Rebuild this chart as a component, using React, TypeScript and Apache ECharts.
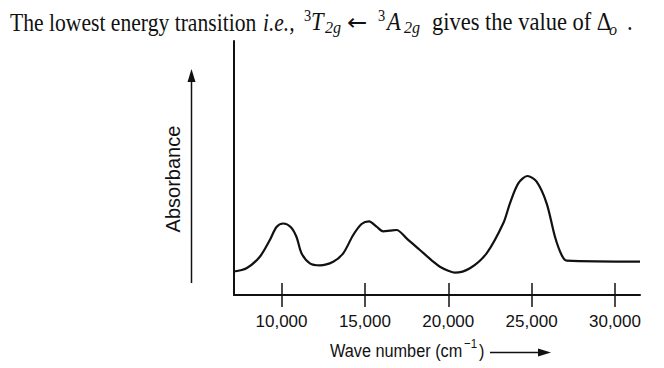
import React, { useEffect, useRef } from "react";
import * as echarts from "echarts";

// ---- data ----
const waveNumbers = [
  7150, 7900, 8700, 9300, 9700, 10100, 10550, 10900, 11200, 11700, 12300,
  13100, 13700, 14300, 14800, 15250, 15700, 16100, 16500, 16900, 17500, 18300,
  19100, 19500, 20000, 20400, 21300, 22300, 23300, 23700, 24200, 24750, 25300,
  25900, 26400, 26800, 27100, 31500,
];
const absorbance = [
  23.5, 26.7, 38.3, 55, 68, 71.5, 68, 58, 41.7, 31.7, 29.7, 33.3, 41.7, 60, 71,
  73.7, 68.3, 63.7, 64.3, 65, 56.7, 45, 33.3, 28.3, 24.3, 22.3, 26.7, 41.7,
  71.7, 91.7, 111.7, 119, 113.3, 91.7, 58.3, 40, 34.3, 33.3,
];
const tickValues = [10000, 15000, 20000, 25000, 30000];
const xMin = 7150;
const xMax = 31500;
const yMax = 254;

const yLabel = "Absorbance";
const xLabelMain = "Wave number (cm";
const xLabelSup = "\u22121";
const xLabelEnd = ")";

const titleParts = {
  lead: "The lowest energy transition",
  ie: "i.e.,",
  sup: "3",
  t: "T",
  sub: "2g",
  arrow: "\u2190",
  a: "A",
  tail: "gives the value of \u0394",
  o: "o",
  dot: ".",
};

const INK = "#111";
const serif = "'Liberation Serif', 'Times New Roman', serif";
const sans = "'Liberation Sans', Arial, sans-serif";

function serifText(
  text: string,
  x: number,
  y: number,
  size: number,
  italic = false,
  sx = 0.9,
  family = serif
) {
  return {
    type: "text",
    x,
    y,
    scaleX: sx,
    silent: true,
    style: {
      text,
      fontFamily: family,
      fontSize: size,
      fontStyle: italic ? "italic" : "normal",
      fill: INK,
      align: "left",
      verticalAlign: "middle",
    },
  };
}

function sansText(text: string, x: number, y: number, size: number) {
  return {
    type: "text",
    x,
    y,
    scaleX: 0.88,
    silent: true,
    style: {
      text,
      fontFamily: sans,
      fontSize: size,
      fill: INK,
      align: "left",
      verticalAlign: "middle",
    },
  };
}

export default function App() {
  const ref = useRef<HTMLDivElement>(null);

  useEffect(() => {
    if (!ref.current) return;
    const chart = echarts.init(ref.current, null, { renderer: "svg" });

    const main = 25;
    const small = 17;

    const option: any = {
      animation: false,
      backgroundColor: "#fff",
      grid: { left: 234, right: 24, top: 41, bottom: 73, containLabel: false },
      xAxis: [
        {
          type: "value",
          min: xMin,
          max: xMax,
          position: "bottom",
          axisLine: { show: true, lineStyle: { color: INK, width: 2 } },
          axisTick: {
            show: true,
            inside: false,
            length: 12,
            customValues: tickValues,
            lineStyle: { color: INK, width: 1.5 },
          },
          axisLabel: {
            show: true,
            customValues: tickValues,
            margin: 18,
            color: INK,
            fontFamily: sans,
            fontSize: 17,
          },
          splitLine: { show: false },
        },
        {
          type: "value",
          min: xMin,
          max: xMax,
          position: "bottom",
          offset: 0,
          axisLine: { show: false },
          axisTick: {
            show: true,
            inside: true,
            length: 12,
            customValues: tickValues,
            lineStyle: { color: INK, width: 1.5 },
          },
          axisLabel: { show: false },
          splitLine: { show: false },
        },
      ],
      yAxis: {
        type: "value",
        min: 0,
        max: yMax,
        axisLine: { show: true, lineStyle: { color: INK, width: 2 } },
        axisTick: { show: false },
        axisLabel: { show: false },
        splitLine: { show: false },
      },
      series: [
        {
          type: "line",
          xAxisIndex: 0,
          data: waveNumbers.map((w, i) => [w, absorbance[i]]),
          smooth: 0.3,
          showSymbol: false,
          symbol: "none",
          lineStyle: { color: INK, width: 2.2 },
          clip: true,
        },
      ],
      graphic: [
        // title
        serifText(titleParts.lead, 10, 22, main, false, 0.865),
        serifText(titleParts.ie, 263, 22, main, true, 0.86),
        serifText(titleParts.sup, 304, 15.5, small, false, 0.85),
        serifText(titleParts.t, 311, 22, main, true, 0.9),
        serifText(titleParts.sub, 325, 27.5, small, true, 0.95),
        serifText(titleParts.arrow, 347, 22.5, 23, false, 1.05, "'DejaVu Sans', sans-serif"),
        serifText(titleParts.sup, 378, 15.5, small, false, 0.85),
        serifText(titleParts.a, 387, 22, main, true, 0.9),
        serifText(titleParts.sub, 404, 27.5, small, true, 0.95),
        serifText(titleParts.tail, 432, 22, main, false, 0.9),
        serifText(titleParts.o, 609, 29.5, small, true, 0.95),
        serifText(titleParts.dot, 627, 22, main, false, 0.9),
        // y label + arrow
        {
          type: "text",
          x: 173,
          y: 179,
          rotation: Math.PI / 2,
          silent: true,
          style: {
            text: yLabel,
            fontFamily: sans,
            fontSize: 20,
            fill: INK,
            align: "center",
            verticalAlign: "middle",
          },
        },
        {
          type: "line",
          silent: true,
          shape: { x1: 191.5, y1: 283, x2: 191.5, y2: 78 },
          style: { stroke: INK, lineWidth: 1.5 },
        },
        {
          type: "polygon",
          silent: true,
          shape: { points: [[187.5, 82], [191.5, 69], [195.5, 82]] },
          style: { fill: INK },
        },
        // x label + arrow
        sansText(xLabelMain, 330, 350.5, 18.5),
        sansText(xLabelSup, 464, 344, 13),
        sansText(xLabelEnd, 479, 350.5, 18.5),
        {
          type: "line",
          silent: true,
          shape: { x1: 490, y1: 352.5, x2: 542, y2: 352.5 },
          style: { stroke: INK, lineWidth: 1.5 },
        },
        {
          type: "polygon",
          silent: true,
          shape: { points: [[538, 348.5], [551, 352.5], [538, 356.5]] },
          style: { fill: INK },
        },
      ],
    };

    chart.setOption(option);
    return () => chart.dispose();
  }, []);

  return (
    <div
      ref={ref}
      style={{
        position: "absolute",
        left: 0,
        top: 0,
        width: 664,
        height: 368,
        background: "#fff",
      }}
    />
  );
}
